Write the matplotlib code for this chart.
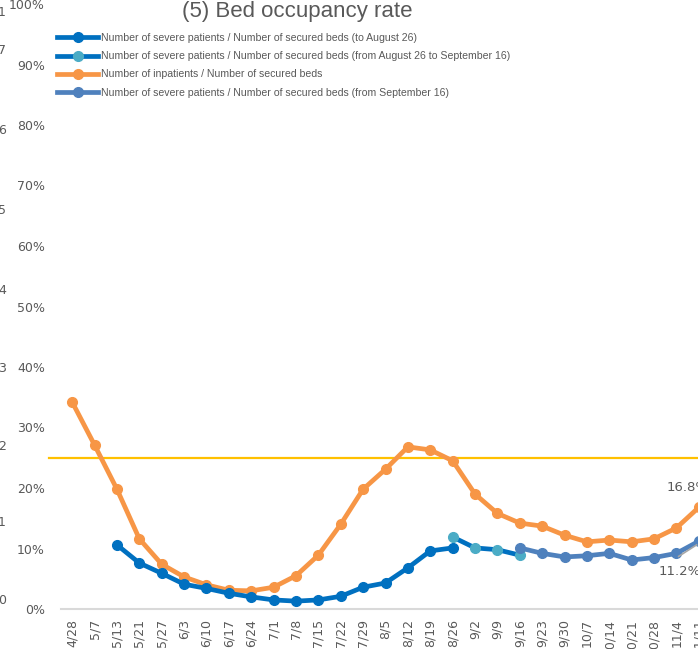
import matplotlib
matplotlib.use("Agg")
import matplotlib.pyplot as plt
from matplotlib.lines import Line2D
from matplotlib.ticker import FuncFormatter

dates = ["4/28", "5/7", "5/13", "5/21", "5/27", "6/3", "6/10", "6/17", "6/24", "7/1",
         "7/8", "7/15", "7/22", "7/29", "8/5", "8/12", "8/19", "8/26", "9/2", "9/9",
         "9/16", "9/23", "9/30", "10/7", "10/14", "10/21", "10/28", "11/4", "11/11"]

inpatients = [34.2, 27.1, 19.8, 11.6, 7.4, 5.3, 4.0, 3.1, 3.0, 3.6,
              5.5, 8.9, 14.0, 19.8, 23.1, 26.8, 26.3, 24.5, 19.0, 15.8,
              14.2, 13.7, 12.2, 11.1, 11.4, 11.1, 11.6, 13.4, 16.8]

severe_to_aug26_dates = ["5/13", "5/21", "5/27", "6/3", "6/10", "6/17", "6/24", "7/1",
                         "7/8", "7/15", "7/22", "7/29", "8/5", "8/12", "8/19", "8/26"]
severe_to_aug26 = [10.6, 7.6, 5.9, 4.1, 3.4, 2.6, 2.0, 1.5, 1.3, 1.5, 2.1, 3.6, 4.3, 6.8, 9.6, 10.1]

severe_aug26_sep16_dates = ["8/26", "9/2", "9/9", "9/16"]
severe_aug26_sep16 = [11.9, 10.1, 9.8, 8.9]

severe_from_sep16_dates = ["9/16", "9/23", "9/30", "10/7", "10/14", "10/21", "10/28", "11/4", "11/11"]
severe_from_sep16 = [10.1, 9.2, 8.6, 8.8, 9.2, 8.1, 8.5, 9.2, 11.2]

threshold = 25.0

legend_labels = [
    "Number of severe patients / Number of secured beds (to August 26)",
    "Number of severe patients / Number of secured beds (from August 26 to September 16)",
    "Number of inpatients / Number of secured beds",
    "Number of severe patients / Number of secured beds (from September 16)",
]

C_BLUE = "#0070C0"
C_LBLUE = "#4BACC6"
C_ORANGE = "#F79646"
C_STEEL = "#4F81BD"
C_YELLOW = "#FFC000"
C_TEXT = "#595959"

W, H = 698, 649
fig = plt.figure(figsize=(W / 100, H / 100), dpi=100)
ax = fig.add_axes([61 / W, 40 / H, 649 / W, 605 / H])

idx = {d: i for i, d in enumerate(dates)}
def xs(ds):
    return [idx[d] for d in ds]

lw = 3.4
ms = 7
ax.plot(xs(dates), [v / 100 for v in inpatients], color=C_ORANGE, lw=lw, marker="o", ms=ms, zorder=3)
ax.plot(xs(severe_to_aug26_dates), [v / 100 for v in severe_to_aug26], color=C_BLUE, lw=lw, marker="o", ms=ms, zorder=4)
ax.plot(xs(severe_aug26_sep16_dates), [v / 100 for v in severe_aug26_sep16], color=C_BLUE, lw=lw,
        marker="o", ms=ms, mfc=C_LBLUE, mec=C_LBLUE, zorder=4)
ax.plot(xs(severe_from_sep16_dates), [v / 100 for v in severe_from_sep16], color=C_STEEL, lw=lw, marker="o", ms=ms, zorder=5)

# threshold line (extends a little left of the axis)
ax.plot([-1.05, 28.5], [threshold / 100] * 2, color=C_YELLOW, lw=1.6, clip_on=False, zorder=2)

ax.set_xlim(-0.5, 28.5)
ax.set_ylim(0, 1.0)
ax.set_xticks(range(len(dates)))
ax.set_xticklabels(dates, rotation=90, fontsize=9, color=C_TEXT, family="DejaVu Sans")
ax.set_yticks([i / 10 for i in range(11)])
ax.yaxis.set_major_formatter(FuncFormatter(lambda v, p: f"{v*100:.0f}%"))
for t in ax.get_yticklabels():
    t.set_fontsize(9)
    t.set_color(C_TEXT)
ax.tick_params(axis="both", length=0)
ax.tick_params(axis="x", pad=7)
ax.tick_params(axis="y", pad=11.5)
for s in ["top", "right", "left"]:
    ax.spines[s].set_visible(False)
ax.spines["bottom"].set_color("#D9D9D9")
ax.spines["bottom"].set_linewidth(1.5)

# data labels
last = len(dates) - 1
ax.annotate("16.8%", xy=(last, inpatients[-1] / 100), xytext=(-23, 14), textcoords="offset points",
            fontsize=9.5, color=C_TEXT, ha="left", va="center", annotation_clip=False)
ax.annotate("11.2%", xy=(last, severe_from_sep16[-1] / 100), xytext=(-29, -22), textcoords="offset points",
            fontsize=9.5, color=C_TEXT, ha="left", va="center", annotation_clip=False)
ax.plot([27.1, 27.9], [0.087, 0.106], color="#A6A6A6", lw=1.2, zorder=6, clip_on=False)

# title
fig.text(297 / W, 1 - 11 / H, "(5) Bed occupancy rate", fontsize=16, color=C_TEXT,
         ha="center", va="center", family="Liberation Sans")

# legend
handles = [
    Line2D([], [], color=C_BLUE, lw=lw, marker="o", ms=ms),
    Line2D([], [], color=C_BLUE, lw=lw, marker="o", ms=ms, mfc=C_LBLUE, mec=C_LBLUE),
    Line2D([], [], color=C_ORANGE, lw=lw, marker="o", ms=ms),
    Line2D([], [], color=C_STEEL, lw=lw, marker="o", ms=ms),
]
fs_leg = 7.6
leg = fig.legend(handles, legend_labels, loc="upper left", bbox_to_anchor=(57 / W, 1 - 33 / H),
                 frameon=False, handlelength=3.9, handletextpad=0.25,
                 labelspacing=0.78, borderpad=0, borderaxespad=0,
                 prop={"family": "Liberation Sans", "size": fs_leg})
for t in leg.get_texts():
    t.set_color(C_TEXT)

# fragments of the neighbouring chart's axis at the far left edge
frag = ["1", "7", "6", "5", "4", "3", "2", "1", "0"]
frag_y = [12, 50, 130, 210, 290, 368, 446, 523, 601]
for s, yy in zip(frag, frag_y):
    fig.text(6 / W, 1 - yy / H, s, fontsize=9, color=C_TEXT, ha="right", va="center", family="DejaVu Sans")

fig.savefig("out.png", dpi=100)
